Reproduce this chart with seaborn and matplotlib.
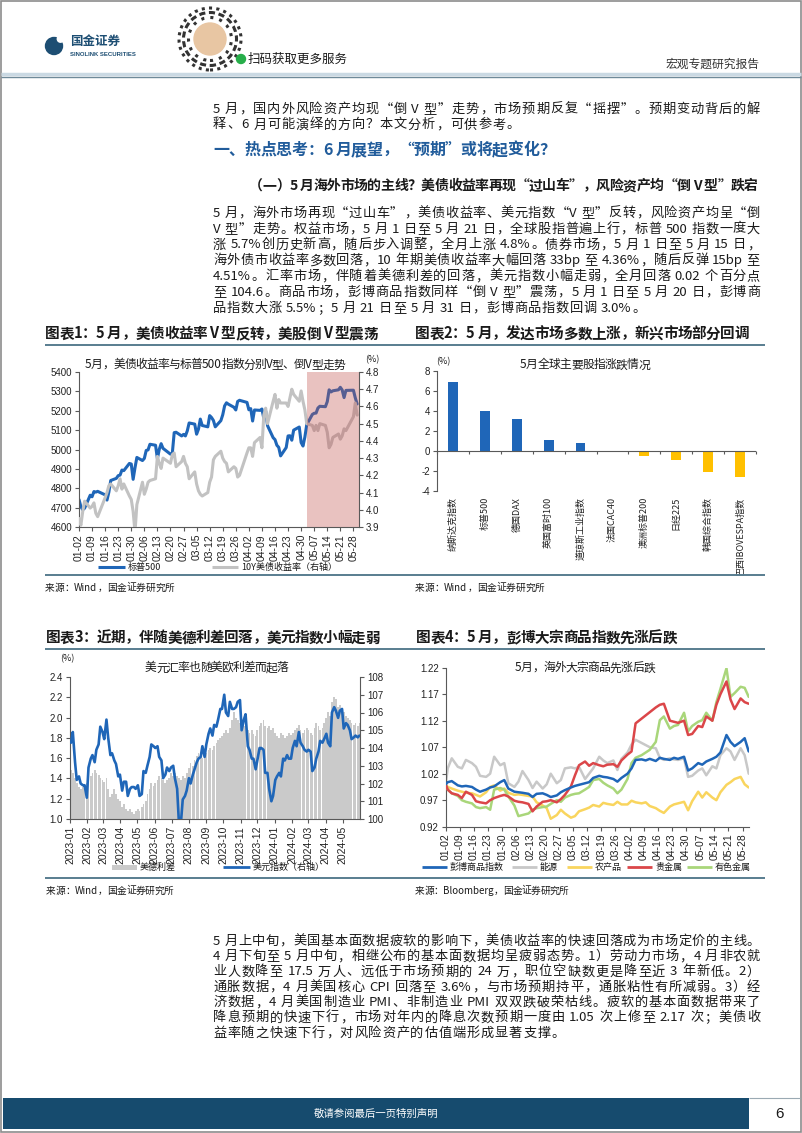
import re
import numpy as np
import pandas as pd
import matplotlib
matplotlib.use("Agg")
import matplotlib.pyplot as plt
import matplotlib.dates as mdates
from matplotlib.font_manager import FontProperties
from matplotlib.patches import Rectangle, Circle
from matplotlib.lines import Line2D
from matplotlib.ticker import FormatStrFormatter
import seaborn as sns

# ======================= DATA =======================
# Chart 1: S&P 500 and US 10Y yield, trading days 2024-01-02 .. 2024-05-30
spx_holidays = ["2024-01-15", "2024-02-19", "2024-03-29", "2024-05-27"]
spx = [4742, 4705, 4689, 4697, 4764, 4756, 4783, 4780, 4784, 4766, 4739, 4780, 4840, 4851, 4865, 4868, 4894, 4891, 4928, 4925, 4846,
       4906, 4959, 4943, 4954, 4995, 4998, 5027, 5022, 4953, 5001, 5030, 5006, 4976, 4982, 5087, 5089, 5070, 5078, 5070, 5096,
       5137, 5131, 5079, 5105, 5157, 5124, 5117, 5175, 5165, 5150, 5117, 5149, 5179, 5225, 5241, 5234, 5218, 5204, 5248, 5254,
       5243, 5205, 5211, 5147, 5204, 5202, 5209, 5161, 5199, 5123, 5061, 5051, 5022, 5011, 4967, 5010, 5070, 5071, 5048, 5100, 5116, 5036,
       5018, 5064, 5128, 5181, 5187, 5188, 5214, 5223, 5221, 5247, 5308, 5297, 5303, 5308, 5321, 5307, 5268, 5305, 5306, 5267, 5235]
ust10y = [3.95, 3.91, 3.99, 4.05, 4.01, 4.02, 4.04, 3.98, 3.96, 4.07, 4.10, 4.14, 4.15, 4.11, 4.14, 4.18, 4.12, 4.15, 4.08, 4.06, 3.99,
          3.87, 4.03, 4.16, 4.09, 4.12, 4.16, 4.17, 4.18, 4.31, 4.27, 4.24, 4.30, 4.27, 4.32, 4.33, 4.25, 4.28, 4.31, 4.27, 4.25,
          4.18, 4.22, 4.15, 4.11, 4.09, 4.08, 4.10, 4.16, 4.19, 4.29, 4.31, 4.34, 4.30, 4.28, 4.27, 4.22, 4.25, 4.24, 4.19, 4.20,
          4.33, 4.36, 4.36, 4.31, 4.39, 4.42, 4.36, 4.55, 4.59, 4.50, 4.63, 4.67, 4.59, 4.64, 4.62, 4.62, 4.60, 4.65, 4.70, 4.67, 4.63, 4.69,
          4.63, 4.58, 4.50, 4.49, 4.46, 4.49, 4.46, 4.50, 4.49, 4.45, 4.36, 4.38, 4.42, 4.44, 4.41, 4.43, 4.47, 4.46, 4.54, 4.62, 4.55]
c1_shade = ["2024-05-03", "2024-05-31"]
c1_left_ticks = [4600, 4700, 4800, 4900, 5000, 5100, 5200, 5300, 5400]
c1_right_ticks = [3.9, 4.0, 4.1, 4.2, 4.3, 4.4, 4.5, 4.6, 4.7, 4.8]
c1_labels = ["标普500", "10Y美债收益率（右轴）"]

# Chart 2: May index changes (%)
idx_names = ["纳斯达克指数", "标普500", "德国DAX", "英国富时100", "道琼斯工业指数",
             "法国CAC40", "澳洲标普200", "日经225", "韩国综合指数", "巴西IBOVESPA指数"]
idx_chg = [6.88, 3.97, 3.17, 1.10, 0.77, -0.10, -0.50, -0.90, -2.10, -2.60]
c2_yticks = [-4, -2, 0, 2, 4, 6, 8]

# Chart 3: US-German 10Y spread (%) and DXY, sampled Tue/Fri 2023-01-03 .. 2024-05-31
spread = [1.48, 1.45, 1.40, 1.35, 1.32, 1.30, 1.32, 1.33, 1.35,
          1.40, 1.42, 1.45, 1.48, 1.45, 1.43, 1.40, 1.38,
          1.36, 1.40, 1.30, 1.22, 1.25, 1.30, 1.25, 1.20, 1.18,
          1.12, 1.15, 1.10, 1.08, 1.10, 1.07, 1.05, 1.08,
          1.10, 1.08, 1.12, 1.15, 1.18, 1.25, 1.30, 1.35, 1.33,
          1.35, 1.38, 1.42, 1.40, 1.38, 1.35, 1.38, 1.40, 1.45,
          1.42, 1.45, 1.42, 1.40, 1.38, 1.42, 1.40, 1.45,
          1.50, 1.55, 1.52, 1.58, 1.62, 1.65, 1.63, 1.60, 1.62,
          1.65, 1.68, 1.70, 1.68, 1.72, 1.75, 1.78, 1.80, 1.82,
          1.85, 1.88, 1.85, 1.90, 1.98, 2.05, 2.00, 1.98, 1.95,
          1.95, 1.92, 1.97, 1.88, 1.85, 1.88, 1.84, 1.82,
          1.88, 1.92, 1.95, 1.98, 1.92, 1.90, 1.92, 1.88, 1.90,
          1.85, 1.82, 1.80, 1.85, 1.83, 1.80, 1.82, 1.85, 1.83,
          1.85, 1.88, 1.90, 1.93, 1.88, 1.85, 1.88, 1.90,
          1.88, 1.85, 1.83, 1.90, 1.95, 1.92, 1.88, 1.90, 1.95,
          2.00, 2.05, 2.02, 2.15, 2.20, 2.18, 2.10, 2.12, 2.08,
          2.05, 2.02, 2.00, 1.98, 1.95, 1.93, 1.95, 1.92, 1.95]
dxy = [104.3, 104.9, 103.2, 102.2, 102.4, 102.0, 101.9, 101.9, 101.2,
       102.9, 103.4, 103.6, 103.2, 103.9, 104.2, 105.2, 104.9,
       104.5, 105.6, 104.6, 103.6, 103.7, 103.3, 103.1, 102.4, 102.5,
       101.6, 102.1, 102.1, 101.3, 101.7, 101.8, 101.8, 101.7,
       101.9, 101.3, 101.4, 102.7, 102.6, 103.0, 103.5, 104.2, 104.1,
       104.0, 104.1, 103.5, 103.3, 102.3, 102.5, 102.9, 102.7, 102.9,
       103.0, 102.3, 101.7, 99.9, 99.9, 101.1, 101.3, 101.6,
       102.3, 102.0, 102.5, 102.8, 103.2, 103.4, 103.5, 104.1, 103.5,
       104.2, 104.8, 105.1, 104.7, 105.3, 105.2, 105.6, 106.2, 106.2,
       107.0, 106.0, 105.8, 106.6, 106.2, 106.2, 106.3, 106.6, 106.7,
       105.0, 105.6, 105.9, 104.1, 103.9, 103.4, 103.4, 102.8,
       103.3, 104.0, 104.0, 103.9, 102.6, 102.6, 101.7, 101.0, 101.3,
       102.2, 102.4, 102.6, 102.4, 103.4, 103.3, 103.6, 103.4, 103.4,
       104.0, 104.4, 104.1, 104.9, 104.3, 104.1, 103.9, 103.8,
       103.9, 103.8, 102.7, 102.9, 103.4, 103.8, 104.4, 104.3, 104.5,
       104.8, 104.3, 104.1, 106.0, 106.3, 106.1, 105.7, 106.1, 106.2,
       105.1, 105.4, 105.3, 105.0, 104.5, 104.6, 104.7, 104.6, 104.7]
c3_left_ticks = [1.0, 1.2, 1.4, 1.6, 1.8, 2.0, 2.2, 2.4]
c3_right_ticks = [100, 101, 102, 103, 104, 105, 106, 107, 108]
c3_labels = ["美德利差", "美元指数（右轴）"]

# Chart 4: Bloomberg commodity sub-indices, normalised to 2024-01-02 = 1
c4_dates = ["01-02", "01-03", "01-05", "01-08", "01-10", "01-12", "01-15", "01-17", "01-19",
            "01-22", "01-24", "01-26", "01-29", "01-31", "02-02", "02-05", "02-07", "02-09",
            "02-12", "02-14", "02-16", "02-19", "02-21", "02-23", "02-26", "02-28", "03-01",
            "03-04", "03-06", "03-08", "03-11", "03-13", "03-15", "03-18", "03-20", "03-22",
            "03-25", "03-27", "03-29", "04-01", "04-03", "04-05", "04-08", "04-10", "04-12",
            "04-15", "04-17", "04-19", "04-22", "04-24", "04-26", "04-29", "05-01", "05-03",
            "05-06", "05-08", "05-10", "05-13", "05-15", "05-17", "05-20", "05-22", "05-24",
            "05-27", "05-29", "05-31"]
bcom = [1.000, 1.004, 1.006, 0.998, 0.996, 0.997, 0.995, 0.990, 0.986,
        0.990, 0.994, 0.996, 1.004, 1.008, 0.992, 0.986, 0.985, 0.984,
        0.982, 0.976, 0.982, 0.983, 0.980, 0.976, 0.979, 0.985, 0.989,
        0.994, 0.997, 0.999, 1.002, 1.004, 1.012, 1.016, 1.014, 1.013,
        1.010, 1.005, 1.012, 1.020, 1.030, 1.046, 1.047, 1.045, 1.048,
        1.044, 1.050, 1.048, 1.046, 1.050, 1.048, 1.052, 1.026, 1.030,
        1.040, 1.037, 1.043, 1.048, 1.052, 1.060, 1.093, 1.080, 1.072,
        1.080, 1.087, 1.062]
energy = [1.000, 1.030, 1.049, 1.033, 1.030, 1.046, 1.040, 1.033, 1.016,
          1.014, 1.020, 1.052, 1.036, 1.040, 1.002, 0.995, 1.005, 1.025,
          1.008, 0.993, 1.005, 0.992, 1.000, 1.020, 1.002, 1.008, 1.030,
          1.032, 1.030, 1.033, 1.010, 1.020, 1.030, 1.052, 1.045, 1.040,
          1.045, 1.027, 1.048, 1.060, 1.075, 1.084, 1.078, 1.074, 1.070,
          1.068, 1.050, 1.046, 1.049, 1.047, 1.046, 1.049, 1.014, 1.016,
          1.026, 1.030, 1.017, 1.034, 1.030, 1.055, 1.068, 1.062, 1.046,
          1.068, 1.055, 1.020]
agri = [1.000, 0.995, 0.992, 0.988, 0.986, 0.984, 0.983, 0.980, 0.977,
        0.985, 0.995, 0.998, 0.988, 0.992, 0.984, 0.980, 0.981, 0.980,
        0.978, 0.977, 0.966, 0.960, 0.955, 0.935, 0.942, 0.952, 0.945,
        0.937, 0.940, 0.949, 0.953, 0.956, 0.961, 0.958, 0.965, 0.963,
        0.961, 0.967, 0.962, 0.962, 0.969, 0.966, 0.964, 0.966, 0.959,
        0.955, 0.950, 0.946, 0.958, 0.962, 0.964, 0.967, 0.951, 0.968,
        0.986, 0.975, 0.985, 0.975, 0.970, 0.985, 0.999, 1.004, 1.010,
        1.014, 1.000, 0.994]
precious = [1.000, 0.990, 0.983, 0.980, 0.974, 0.986, 0.980, 0.968, 0.966,
            0.964, 0.970, 0.974, 0.978, 0.980, 0.977, 0.969, 0.967, 0.966,
            0.963, 0.949, 0.958, 0.967, 0.968, 0.970, 0.966, 0.972, 0.980,
            0.996, 1.017, 1.036, 1.043, 1.035, 1.040, 1.036, 1.034, 1.037,
            1.038, 1.033, 1.045, 1.056, 1.062, 1.115, 1.124, 1.130, 1.136,
            1.145, 1.150, 1.152, 1.120, 1.118, 1.116, 1.120, 1.093, 1.095,
            1.110, 1.108, 1.128, 1.120, 1.150, 1.170, 1.194, 1.160, 1.142,
            1.162, 1.155, 1.152]
metals = [1.000, 0.990, 0.983, 0.978, 0.970, 0.967, 0.964, 0.957, 0.955,
          0.957, 0.952, 0.990, 0.993, 0.990, 0.977, 0.960, 0.940, 0.942,
          0.945, 0.952, 0.955, 0.957, 0.958, 0.963, 0.970, 0.967, 0.975,
          0.980, 0.982, 0.983, 0.990, 0.995, 1.008, 1.010, 1.003, 0.998,
          0.992, 0.983, 0.990, 1.010, 1.040, 1.050, 1.055, 1.060, 1.065,
          1.080, 1.121, 1.128, 1.105, 1.110, 1.112, 1.135, 1.100, 1.110,
          1.118, 1.121, 1.135, 1.120, 1.155, 1.180, 1.219, 1.165, 1.172,
          1.184, 1.182, 1.165]
c4_names = ["彭博商品指数", "能源", "农产品", "贵金属", "有色金属"]
c4_yticks = [0.92, 0.97, 1.02, 1.07, 1.12, 1.17, 1.22]

# Text content
para1 = ["5 月，国内外风险资产均现“倒 V 型”走势，市场预期反复“摇摆”。预期变动背后的解",
         "释、6 月可能演绎的方向？本文分析，可供参考。"]
heading = "一、热点思考：6 月展望，“预期”或将起变化？"
subheading = "（一）5 月海外市场的主线？美债收益率再现“过山车”，风险资产均“倒 V 型”跌宕"
para2 = ["5 月，海外市场再现“过山车”，美债收益率、美元指数“V 型”反转，风险资产均呈“倒",
         "V 型”走势。权益市场，5 月 1 日至 5 月 21 日，全球股指普遍上行，标普 500 指数一度大",
         "涨 5.7%创历史新高，随后步入调整，全月上涨 4.8%。债券市场，5 月 1 日至 5 月 15 日，",
         "海外债市收益率多数回落，10 年期美债收益率大幅回落 33bp 至 4.36%，随后反弹 15bp 至",
         "4.51%。汇率市场，伴随着美德利差的回落，美元指数小幅走弱，全月回落 0.02 个百分点",
         "至 104.6。商品市场，彭博商品指数同样“倒 V 型”震荡，5 月 1 日至 5 月 20 日，彭博商",
         "品指数大涨 5.5%；5 月 21 日至 5 月 31 日，彭博商品指数回调 3.0%。"]
para3 = ["5 月上中旬，美国基本面数据疲软的影响下，美债收益率的快速回落成为市场定价的主线。",
         "4 月下旬至 5 月中旬，相继公布的基本面数据均呈疲弱态势。1）劳动力市场，4 月非农就",
         "业人数降至 17.5 万人、远低于市场预期的 24 万，职位空缺数更是降至近 3 年新低。2）",
         "通胀数据，4 月美国核心 CPI 回落至 3.6%，与市场预期持平，通胀粘性有所减弱。3）经",
         "济数据，4 月美国制造业 PMI、非制造业 PMI 双双跌破荣枯线。疲软的基本面数据带来了",
         "降息预期的快速下行，市场对年内的降息次数预期一度由 1.05 次上修至 2.17 次；美债收",
         "益率随之快速下行，对风险资产的估值端形成显著支撑。"]

# ======================= STYLE =======================
sns.set_style("ticks")
CJK = ["Noto Sans CJK SC", "DejaVu Sans"]
NUM = "Liberation Sans"
plt.rcParams["font.family"] = CJK
plt.rcParams["axes.unicode_minus"] = False

BLUE = "#1F66B8"
GRAY = "#C2C2C2"
YELLOW = "#FFC000"
AXC = "#595959"
SEP = "#587D8F"
TXT = "#1A1A1A"

W, H = 802, 1133
fig = plt.figure(figsize=(W / 100, H / 100), dpi=100)
fig.patch.set_facecolor("white")
PT = fig.dpi_scale_trans
renderer = fig.canvas.get_renderer()


def P(x, y):
    return (x / 100.0, (H - y) / 100.0)


def add_ax(x0, y0, x1, y1):
    return fig.add_axes([x0 / W, 1 - y1 / H, (x1 - x0) / W, (y1 - y0) / H])


def hline(x0, x1, y, color, lw):
    fig.add_artist(Line2D([x0 / 100, x1 / 100], [(H - y) / 100] * 2, color=color, lw=lw,
                          transform=PT, solid_capstyle="butt"))


def rect(x0, y0, x1, y1, color):
    fig.add_artist(Rectangle(P(x0, y1), (x1 - x0) / 100, (y1 - y0) / 100, transform=PT,
                             facecolor=color, edgecolor="none"))


def text(x, y, s, size, ha="left", color=TXT, weight="normal", family=None):
    return fig.text(x / W, 1 - y / H, s, fontsize=size, ha=ha, va="center", color=color,
                    fontweight=weight, family=family or CJK)


TOK = re.compile(r"[A-Za-z0-9.%]+|.")


def spread_line(line, x0, x1, y, size, weight="normal", color=TXT, justify=True, extra=None):
    prop = FontProperties(family=CJK, size=size, weight=weight)
    toks = TOK.findall(line)
    ws = [renderer.get_text_width_height_descent(t, prop, ismath=False)[0] for t in toks]
    if justify and len(toks) > 1:
        extra = (x1 - x0 - sum(ws)) / (len(toks) - 1)
    elif extra is None:
        extra = 0.0
    base = y + 0.37 * size * 100 / 72
    x = x0
    for t, w in zip(toks, ws):
        if t.strip():
            fig.text(x / W, 1 - base / H, t, fontproperties=prop, color=color, ha="left", va="baseline")
        x += w + extra
    return extra


def paragraph(lines, x0, x1, y0, dy, size, **kw):
    extra = 0.0
    for i, line in enumerate(lines):
        if i == len(lines) - 1:
            spread_line(line, x0, x1, y0 + i * dy, size, justify=False, extra=max(extra, 0), **kw)
        else:
            extra = spread_line(line, x0, x1, y0 + i * dy, size, **kw)


def leg_line(x0, x1, y, color, lw):
    hline(x0, x1, y, color, lw)


def tick_style(ax, size=7):
    ax.tick_params(labelsize=size, length=3, width=0.8, color=AXC, labelcolor="#222222",
                   pad=2, labelfontfamily=NUM)


# ======================= PAGE FRAME / HEADER =======================
fig.add_artist(Rectangle((0.006, 0.006), (W - 1.2) / 100, (H - 1.2) / 100, transform=PT,
                         fill=False, ec="#8C8C8C", lw=1.2))
fig.add_artist(Circle(P(54, 46), 8.5 / 100, transform=PT, color="#1D4E73"))
fig.add_artist(Circle(P(60.5, 39), 3.2 / 100, transform=PT, color="white"))
text(70, 41.5, "国金证券", 9, weight="bold", color="#1D4E73")
text(70, 54.5, "SINOLINK SECURITIES", 4.3, weight="bold", color="#1D4E73", family=NUM)
for r, ls in [(31, (0, (1, 1.4))), (26.5, (0, (2, 1.2))), (21.5, (0, (1, 2)))]:
    fig.add_artist(Circle(P(210, 39), r / 100, transform=PT, fill=False, ec="#333333", lw=2.2, ls=ls))
fig.add_artist(Circle(P(210, 39), 16 / 100, transform=PT, color="#E8C6A3"))
fig.add_artist(Circle(P(241, 59), 4.5 / 100, transform=PT, color="#27AE4A"))
text(248, 59, "扫码获取更多服务", 9, color="#1A1A1A")
text(760, 64, "宏观专题研究报告", 8.5, ha="right", color="#333333")
hline(1, 801, 74, "#CAD9E3", 2.5)
hline(1, 801, 76.5, "#6F8A99", 1.0)

# ======================= BODY TEXT =======================
paragraph(para1, 213, 760, 108, 15.6, 9.5)
spread_line(heading, 213, 555, 149, 11.5, weight="bold", color="#215C9B")
spread_line(subheading, 249, 758, 185, 10, weight="bold")
paragraph(para2, 213, 760, 212, 15.8, 9.5)
paragraph(para3, 213, 760, 940, 15.3, 9.5)

# chart titles & separators
spread_line("图表1：5 月，美债收益率 V 型反转，美股倒 V 型震荡", 45, 378, 333, 10.5, weight="bold")
spread_line("图表2：5 月，发达市场多数上涨，新兴市场部分回调", 415, 749, 333, 10.5, weight="bold")
hline(45, 765, 344.5, SEP, 1.4)
hline(45, 765, 575, SEP, 1.4)
spread_line("来源：Wind，国金证券研究所", 45, 175, 587, 7)
spread_line("来源：Wind，国金证券研究所", 415, 545, 587, 7)

spread_line("图表3：近期，伴随美德利差回落，美元指数小幅走弱", 46, 380, 637, 10.5, weight="bold")
spread_line("图表4：5 月，彭博大宗商品指数先涨后跌", 416, 677, 637, 10.5, weight="bold")
hline(45, 765, 649, SEP, 1.4)
hline(45, 765, 878, SEP, 1.4)
spread_line("来源：Wind，国金证券研究所", 46, 174, 890, 7)
spread_line("来源：Bloomberg，国金证券研究所", 415, 569, 890, 7)

# ======================= CHART 1 =======================
c1_dates = pd.bdate_range("2024-01-02", "2024-05-30")
c1_dates = c1_dates[~c1_dates.isin(pd.to_datetime(spx_holidays))]
ax1 = add_ax(79, 372, 359, 527)
ax1b = ax1.twinx()
sns.lineplot(x=c1_dates, y=spx, ax=ax1, color=BLUE, linewidth=2.2)
sns.lineplot(x=c1_dates, y=ust10y, ax=ax1b, color=GRAY, linewidth=2.2)
ax1b.axvspan(pd.Timestamp(c1_shade[0]), pd.Timestamp(c1_shade[1]), color="#C0504D", alpha=0.35, lw=0, zorder=5)
ax1.set_xlim(pd.Timestamp("2024-01-02"), pd.Timestamp("2024-05-31"))
ax1.set_ylim(c1_left_ticks[0], c1_left_ticks[-1])
ax1b.set_ylim(c1_right_ticks[0], c1_right_ticks[-1])
ax1.set_yticks(c1_left_ticks)
ax1b.set_yticks(c1_right_ticks)
ax1b.yaxis.set_major_formatter(FormatStrFormatter("%.1f"))
ax1.set_xticks(pd.date_range("2024-01-02", "2024-05-28", freq="7D"))
ax1.xaxis.set_major_formatter(mdates.DateFormatter("%m-%d"))
for a in (ax1, ax1b):
    a.set_xlabel("")
    a.set_ylabel("")
    tick_style(a)
    for s in a.spines.values():
        s.set_color(AXC)
        s.set_linewidth(0.8)
ax1.tick_params(axis="x", rotation=90, labelsize=7.5)
ax1.spines["top"].set_visible(False)
ax1.spines["right"].set_visible(False)
for s in ("top", "left", "bottom"):
    ax1b.spines[s].set_visible(False)
text(365, 360, "(%)", 6.5)
spread_line("5月，美债收益率与标普500指数分别V型、倒V型走势", 85, 345, 364, 8.5)
leg_line(98, 125, 567, BLUE, 2.2)
text(128, 567, c1_labels[0], 6.5)
leg_line(212, 238, 567, GRAY, 2.2)
text(241, 567, c1_labels[1], 6.5)

# ======================= CHART 2 =======================
ax2 = add_ax(437, 371, 756, 491)
c2_colors = [BLUE if v >= 0 else YELLOW for v in idx_chg]
sns.barplot(x=idx_names, y=idx_chg, hue=idx_names, palette=c2_colors, legend=False,
            errorbar=None, width=0.31, saturation=1, linewidth=0, ax=ax2)
ax2.set_xlim(-0.5, len(idx_names) - 0.5)
ax2.set_ylim(c2_yticks[0], c2_yticks[-1])
ax2.set_yticks(c2_yticks)
ax2.set_xticks([])
ax2.set_xlabel("")
ax2.set_ylabel("")
tick_style(ax2)
for s in ("top", "right", "bottom"):
    ax2.spines[s].set_visible(False)
ax2.spines["left"].set_color(AXC)
ax2.spines["left"].set_linewidth(0.8)
ax2.axhline(0, color=AXC, lw=0.8, zorder=3)
ax2.vlines(np.arange(-0.5, len(idx_names), 1.0), 0, -0.28, color=AXC, lw=0.8, clip_on=False)
for i, name in enumerate(idx_names):
    ax2.text(i, c2_yticks[0] - 0.6, name, rotation=90, ha="center", va="top", fontsize=6.5,
             color="#222222", family=CJK, clip_on=False)
text(436, 362, "(%)", 6.5)
spread_line("5月全球主要股指涨跌情况", 520, 650, 364, 8.5)

# ======================= CHART 3 =======================
c3_dates = pd.date_range("2023-01-03", "2024-05-31", freq="W-TUE").union(
    pd.date_range("2023-01-06", "2024-05-31", freq="W-FRI"))
ax3 = add_ax(70, 677, 360, 819)
ax3.bar(c3_dates, spread, width=3.2, color="#CACACA", linewidth=0)
ax3b = ax3.twinx()
sns.lineplot(x=c3_dates, y=dxy, ax=ax3b, color=BLUE, linewidth=1.9)
ax3.set_xlim(pd.Timestamp("2023-01-01"), pd.Timestamp("2024-06-01"))
ax3.set_ylim(c3_left_ticks[0], c3_left_ticks[-1])
ax3b.set_ylim(c3_right_ticks[0], c3_right_ticks[-1])
ax3.set_yticks(c3_left_ticks)
ax3b.set_yticks(c3_right_ticks)
ax3.yaxis.set_major_formatter(FormatStrFormatter("%.1f"))
ax3.set_xticks(pd.date_range("2023-01-01", "2024-05-01", freq="MS"))
ax3.xaxis.set_major_formatter(mdates.DateFormatter("%Y-%m"))
for a in (ax3, ax3b):
    a.set_xlabel("")
    a.set_ylabel("")
    tick_style(a)
    for s in a.spines.values():
        s.set_color(AXC)
        s.set_linewidth(0.8)
ax3.tick_params(axis="x", rotation=90, labelsize=7.5)
ax3.spines["top"].set_visible(False)
ax3.spines["right"].set_visible(False)
for s in ("top", "left", "bottom"):
    ax3b.spines[s].set_visible(False)
text(60, 659, "(%)", 6.5)
spread_line("美元汇率也随美欧利差而起落", 145, 288, 667, 8.5)
rect(112, 864.5, 137, 869.5, "#CACACA")
text(140, 867, c3_labels[0], 6.5)
leg_line(223, 250, 867, BLUE, 2.0)
text(253, 867, c3_labels[1], 6.5)

# ======================= CHART 4 =======================
c4_x = pd.to_datetime(["2024-" + d for d in c4_dates])
ax4 = add_ax(445.7, 667.7, 748.7, 826.7)
c4_series = [energy, agri, metals, precious, bcom]
c4_colors = {"彭博商品指数": BLUE, "能源": "#C8C8C8", "农产品": "#F9D55E", "贵金属": "#DB4649", "有色金属": "#A9D67A"}
c4_order = ["能源", "农产品", "有色金属", "贵金属", "彭博商品指数"]
for z, (name, vals) in enumerate(zip(c4_order, c4_series)):
    sns.lineplot(x=c4_x, y=vals, ax=ax4, color=c4_colors[name], linewidth=1.8, zorder=2 + z)
ax4.set_xlim(pd.Timestamp("2024-01-02"), pd.Timestamp("2024-05-31"))
ax4.set_ylim(c4_yticks[0], c4_yticks[-1])
ax4.set_yticks(c4_yticks)
ax4.yaxis.set_major_formatter(FormatStrFormatter("%.2f"))
ax4.set_xticks(pd.date_range("2024-01-02", "2024-05-28", freq="7D"))
ax4.xaxis.set_major_formatter(mdates.DateFormatter("%m-%d"))
ax4.set_xlabel("")
ax4.set_ylabel("")
tick_style(ax4)
ax4.tick_params(axis="x", rotation=90, labelsize=7.5)
for s in ("top", "right"):
    ax4.spines[s].set_visible(False)
for s in ("left", "bottom"):
    ax4.spines[s].set_color(AXC)
    ax4.spines[s].set_linewidth(0.8)
spread_line("5月，海外大宗商品先涨后跌", 515, 655, 667, 8.5)
for (hx0, hx1, tx), name in zip([(422, 447, 450), (512, 537, 540), (567, 592, 595), (627, 652, 655), (687, 712, 715)], c4_names):
    leg_line(hx0, hx1, 867, c4_colors[name], 2.0)
    text(tx, 867, name, 6.5)

# ======================= FOOTER =======================
rect(3, 1098, 749, 1129, "#164B6E")
hline(749, 800, 1098, "#9AA9B3", 0.8)
text(376, 1114, "敬请参阅最后一页特别声明", 7.5, ha="center", color="white")
text(779, 1114, "6", 11, ha="center", family=NUM)

fig.savefig("out.png", dpi=100, facecolor="white")
